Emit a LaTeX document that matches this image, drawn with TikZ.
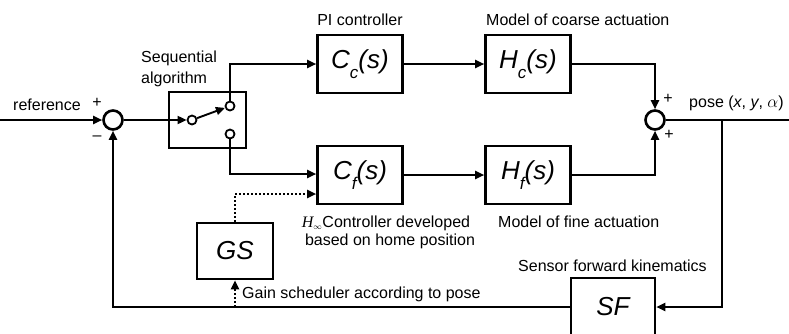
\documentclass[tikz,border=0pt]{standalone}
\usepackage{fontspec}
\setmainfont{Liberation Sans}
\newfontfamily\serifrm{Liberation Serif}
\usetikzlibrary{arrows.meta,calc}
\newcommand{\blksub}[1]{\raisebox{-0.38em}{\fontsize{17}{17}\selectfont #1}}
\begin{document}
\begin{tikzpicture}[x=1pt,y=-1pt,
  blk/.style={draw,line width=2.6pt,minimum width=85pt,minimum height=58pt,inner sep=0pt,font=\fontsize{26}{30}\selectfont\itshape},
  lbl/.style={inner sep=0pt,font=\fontsize{16}{20}\selectfont},
  sumj/.style={circle,draw,line width=2.6pt,minimum size=19pt,inner sep=0pt},
  term/.style={circle,draw,line width=1.8pt,minimum size=9pt,inner sep=0pt},
  conn/.style={line width=1.9pt,-{Triangle[length=9pt,width=8pt]}},
  dconn/.style={line width=2pt,dotted,-{Triangle[length=9pt,width=8pt]}}
]
\useasboundingbox (0,0) rectangle (789,333);
\clip (0,0) rectangle (789,333);
% nodes
\node[sumj] (sumL) at (113,120) {};
\node[sumj] (sumR) at (655,120) {};
\node[draw,line width=2.6pt,minimum width=77pt,minimum height=56pt,inner sep=0pt] (sw) at (207.5,120) {};
\node[term] (piv) at (192,120) {};
\node[term] (upT) at (230,106) {};
\node[term] (loT) at (230,134) {};
\node[blk] (Cc) at (360,64) {C\blksub{c}(s)};
\node[blk] (Hc) at (528,64) {H\blksub{c}(s)};
\node[blk] (Cf) at (360,175) {C\blksub{f}(s)};
\node[blk] (Hf) at (528,175) {H\blksub{f}(s)};
\node[blk,minimum width=76pt,minimum height=56pt] (GS) at (235,251) {GS};
\node[blk,minimum width=84pt] (SF) at (613,307) {SF};
\coordinate (refin) at (0,120);
\coordinate (outend) at (798,120);
\coordinate (br) at (722,120);
% connectors
\draw[conn] (refin) -- (sumL.west);
\draw[conn] (sumL.east) -- (piv.west);
\draw[conn] (piv) -- (upT);
\draw[conn] (upT.north) |- (Cc.west);
\draw[conn] (loT.south) |- ($(Cf.west)+(0,-1)$);
\draw[conn] (Cc) -- (Hc);
\draw[conn] (Cf) -- (Hf);
\draw[conn] (Hc.east) -| (sumR.north);
\draw[conn] (Hf.east) -| (sumR.south);
\draw[conn] (sumR.east) -- (outend);
\draw[conn] (br) |- (SF.east);
\draw[conn] (SF.west) -| (sumL.south);
\draw[dconn] (GS.north) |- ($(Cf.west)+(0,19)$);
\draw[dconn] (GS.south |- SF.west) -- (GS.south);
% labels
\node[lbl,anchor=base west] at (13,110) {reference};
\node[lbl] at (97,103) {+};
\node[lbl] at (97,138) {–};
\node[lbl] at (668,99) {+};
\node[lbl] at (669,135) {+};
\node[lbl,anchor=base west] at (141,62) {Sequential};
\node[lbl,anchor=base west] at (141,83) {algorithm};
\node[lbl,anchor=base] at (360,25) {PI controller};
\node[lbl,anchor=base west] at (486,25) {Model of coarse actuation};
\node[lbl,anchor=base] at (386,227) {{\serifrm\itshape H}$_{\scriptscriptstyle\infty}$Controller developed};
\node[lbl,anchor=base] at (390,245) {based on home position};
\node[lbl,anchor=base west] at (498,227) {Model of fine actuation};
\node[lbl,anchor=base west] at (518,271) {Sensor forward kinematics};
\node[lbl,anchor=base west] at (242,298) {Gain scheduler according to pose};
\node[lbl,anchor=base west] at (689,107) {pose (\textit{x}, \textit{y}, $\alpha$)};
\end{tikzpicture}
\end{document}
